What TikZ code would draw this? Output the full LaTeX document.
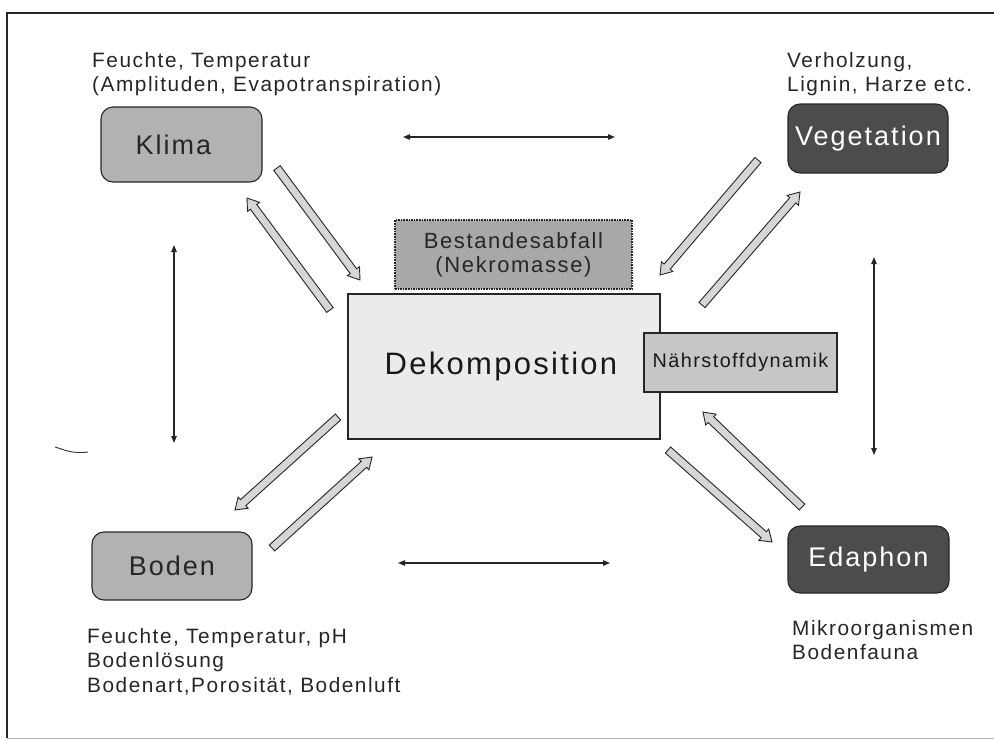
\documentclass[tikz,border=0pt]{standalone}
\usepackage{fontspec}
\setmainfont{Liberation Sans}[LetterSpace=7.4]
\usetikzlibrary{calc,arrows.meta}
\definecolor{midgray}{HTML}{B2B2B2}
\definecolor{darkgray}{HTML}{4C4C4C}
\definecolor{litter}{HTML}{A8A8A8}
\definecolor{nutri}{HTML}{C6C6C6}
\definecolor{decomp}{HTML}{EBEBEB}
\definecolor{arrowgray}{HTML}{D6D6D6}
\newcommand\bigarrow[2]{%
  \coordinate (hb) at ($(#2)!11pt!(#1)$);
  \filldraw[blockarrow] ($(#1)!4pt!90:(#2)$) -- ($(hb)!4pt!90:(#2)$) -- ($(hb)!7.5pt!90:(#2)$) -- (#2)
     -- ($(hb)!7.5pt!-90:(#2)$) -- ($(hb)!4pt!-90:(#2)$) -- ($(#1)!4pt!-90:(#2)$) -- cycle;}
\begin{document}
\begin{tikzpicture}[x=1pt,y=-1pt,
  box/.style={draw=black!85, line width=1.1pt, rounded corners=12pt, inner sep=0pt,
    font=\fontsize{27}{30}\selectfont},
  lightbox/.style={box, fill=midgray, text=black!85},
  darkbox/.style={box, fill=darkgray, text=white},
  lbl/.style={anchor=north west, inner sep=0pt, align=left, text=black!85,
    font=\fontsize{20.8}{24.5}\selectfont},
  twoway/.style={line width=1.1pt, draw=black!85,
    {Triangle[length=7pt,width=5.5pt]}-{Triangle[length=7pt,width=5.5pt]}},
  blockarrow/.style={draw=black!85, line width=0.9pt, fill=arrowgray, line join=miter}
]
\useasboundingbox (0,0) rectangle (994,740);
% frame
\draw[line width=1.5pt, black!85] (994,13) -- (7,13) -- (7,738);
\draw[line width=0.8pt, black!30] (7,738) -- (994,738);

% boxes
\node[lightbox, minimum width=161pt, minimum height=75pt] (klima) at (181.5,144.5) {Klima\kern16pt};
\node[darkbox, minimum width=160pt, minimum height=69pt] (veg) at (868,138.5) {Vegetation};
\node[lightbox, minimum width=160pt, minimum height=68pt] (boden) at (172,566) {Boden};
\node[darkbox, minimum width=161pt, minimum height=67pt] (eda) at (868.5,559.5) {Edaphon};
\node[draw=black!85, line width=1.6pt, densely dotted, fill=litter, minimum width=237pt, minimum height=69pt,
  inner sep=0pt, align=center, font=\fontsize{22}{24}\selectfont, text=black!85] (bestand) at (513.5,254.5)
  {Bestandesabfall\\(Nekromasse)};
\node[draw=black!85, line width=1.4pt, fill=decomp, minimum width=312pt, minimum height=145pt,
  inner sep=0pt, font=\fontsize{31}{34}\selectfont, text=black!90] (dekomp) at (504,366.5) {Dekomposition\kern6pt};
\node[draw=black!85, line width=1.2pt, fill=nutri, minimum width=193pt, minimum height=59pt,
  inner sep=0pt, font=\fontsize{19.8}{22}\selectfont, text=black!90] (naehr) at (740.5,362.5) {Nährstoffdynamik};

% labels
\node[lbl] (klimalbl) at (92,52) {Feuchte, Temperatur\\(Amplituden, Evapotranspiration)};
\node[lbl] (veglbl) at (787,52) {Verholzung,\\Lignin, Harze etc.};
\node[lbl] (bodenlbl) at (87,628) {Feuchte, Temperatur, pH\\Bodenlösung\\Bodenart,Porosität, Bodenluft};
\node[lbl] (edalbl) at (792,620) {Mikroorganismen\\Bodenfauna};

% thin two-way arrows
\coordinate (ht1) at (403,137); \coordinate (ht2) at (615,137);
\coordinate (hb1) at (398,563); \coordinate (hb2) at (610,563);
\coordinate (vl1) at (174,245); \coordinate (vl2) at (174,443);
\coordinate (vr1) at (874,257); \coordinate (vr2) at (874,455);
\draw[twoway] (ht1) -- (ht2);
\draw[twoway] (hb1) -- (hb2);
\draw[twoway] (vl1) -- (vl2);
\draw[twoway] (vr1) -- (vr2);

% block arrows
\coordinate (k1t) at (277,168); \coordinate (k1h) at (360,280);
\coordinate (k2t) at (330,310); \coordinate (k2h) at (247,198);
\coordinate (v1t) at (758,160); \coordinate (v1h) at (660,275);
\coordinate (v2t) at (702,305); \coordinate (v2h) at (800,192);
\coordinate (b1t) at (338,417); \coordinate (b1h) at (235,510);
\coordinate (b2t) at (272,548); \coordinate (b2h) at (372,457);
\coordinate (e1t) at (668,450); \coordinate (e1h) at (772,542);
\coordinate (e2t) at (802,507); \coordinate (e2h) at (703,412);
\bigarrow{k1t}{k1h}
\bigarrow{k2t}{k2h}
\bigarrow{v1t}{v1h}
\bigarrow{v2t}{v2h}
\bigarrow{b1t}{b1h}
\bigarrow{b2t}{b2h}
\bigarrow{e1t}{e1h}
\bigarrow{e2t}{e2h}

% stray pen mark
\draw[line width=0.9pt, black!80] (55,447) .. controls (65,450) and (72,454) .. (88,452);
\end{tikzpicture}
\end{document}
